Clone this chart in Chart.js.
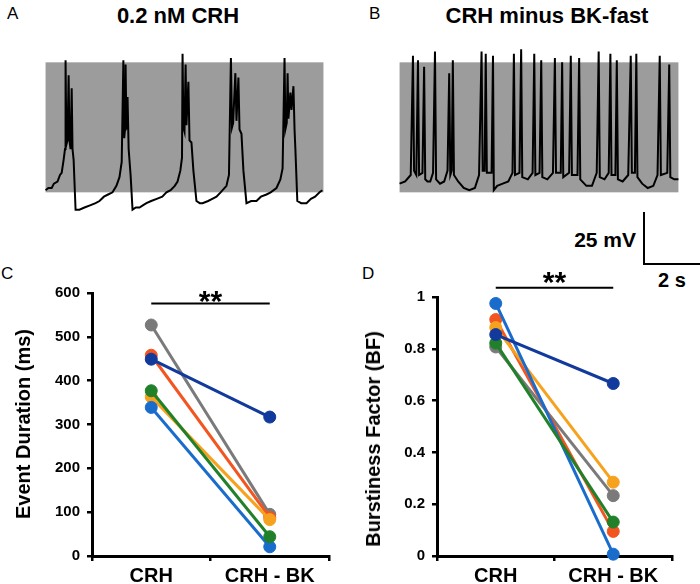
<!DOCTYPE html>
<html>
<head>
<meta charset="utf-8">
<script src="https://cdn.jsdelivr.net/npm/chart.js@4.4.1/dist/chart.umd.min.js"></script>
<style>
  body { margin: 0; background: #fff; width: 700px; height: 584px; position: relative; overflow: hidden;
         font-family: "Liberation Sans", Arial, sans-serif; color: #000; }
  canvas { position: absolute; }
  .t { position: absolute; line-height: 1; white-space: nowrap; }
  .b { font-weight: bold; }
  .bar { position: absolute; background: #000; }
  .ytitle { position: absolute; font-weight: bold; font-size: 20px; line-height: 1; white-space: nowrap;
            transform: translate(-50%, -50%) rotate(-90deg); }
</style>
</head>
<body>
<div class="t" style="left:7px;top:5px;font-size:17px">A</div>
<div class="t b" style="left:178px;top:5px;font-size:22px;transform:translateX(-50%)">0.2 nM CRH</div>
<div class="t" style="left:369px;top:5px;font-size:17px">B</div>
<div class="t" style="left:547px;top:5px;font-size:22px;transform:translateX(-50%);font-weight:bold">CRH minus BK-fast</div>
<div class="t" style="left:1px;top:265px;font-size:17px">C</div>
<div class="t" style="left:362px;top:265px;font-size:17px">D</div>

<div class="t b" style="right:64px;top:229px;font-size:21px">25 mV</div>
<div class="t b" style="left:672px;top:270px;font-size:20px;transform:translateX(-50%)">2 s</div>
<div class="bar" style="left:643px;top:212px;width:2px;height:53px"></div>
<div class="bar" style="left:643px;top:263px;width:57px;height:2px"></div>

<canvas id="traceA" width="289" height="169" style="left:40px;top:45px"></canvas>
<canvas id="traceB" width="290" height="169" style="left:394px;top:45px"></canvas>
<canvas id="durChart" width="345" height="314" style="left:0px;top:270px"></canvas>
<canvas id="bfChart" width="350" height="324" style="left:350px;top:260px"></canvas>

<div class="ytitle" style="left:23px;top:424px">Event Duration (ms)</div>
<div class="ytitle" style="left:373px;top:439px">Burstiness Factor (BF)</div>

<script>
// voltage trace, 0.2 nM CRH (time s, membrane potential mV)
const traceATime = [0.00, 0.10, 0.22, 0.30, 0.43, 0.52, 0.58, 0.65, 0.70, 0.72, 0.75, 0.79, 0.83, 0.86, 0.90, 0.94, 0.97, 1.01, 1.08, 1.22,
  1.40, 1.60, 1.80, 1.94, 2.10, 2.25, 2.41, 2.55, 2.66, 2.74, 2.80, 2.83, 2.86, 2.88, 2.91, 2.95, 2.99, 3.06, 3.13, 3.25,
  3.38, 3.50, 3.63, 3.80, 4.00, 4.20, 4.35, 4.50, 4.65, 4.75, 4.85, 4.91, 4.93, 4.96, 5.00, 5.04, 5.07, 5.14, 5.18, 5.25,
  5.32, 5.43, 5.55, 5.65, 5.85, 6.00, 6.15, 6.30, 6.51, 6.60, 6.67, 6.71, 6.75, 6.83, 6.87, 6.94, 6.98, 7.05, 7.12, 7.23,
  7.40, 7.59, 7.75, 7.95, 8.10, 8.31, 8.45, 8.53, 8.60, 8.63, 8.68, 8.71, 8.74, 8.81, 8.85, 8.92, 8.96, 8.99, 9.06, 9.20,
  9.39, 9.55, 9.70, 9.86, 9.96];
const traceAVolt = [-59, -58, -58, -56, -55, -52, -51, -45, -40, 1, -38, -36, -6, -36, -40, -12, -40, -45, -68, -68,
  -67, -66, -65, -64, -62, -61, -60, -57, -53, -46, 1, -35, -31, -1, -31, -16, -40, -52, -68, -67,
  -67, -66, -65, -64, -63, -62, -60, -59, -57, -55, -50, -44, 4, -30, -32, -1, -29, -9, -36, -37,
  -50, -64, -65, -65, -64, -63, -62, -60, -57, -52, 2, -30, -28, -5, -27, -7, -31, -33, -50, -65,
  -64, -64, -62, -61, -60, -58, -54, -49, 2, -31, -28, -5, -26, -14, -22, -11, -31, -40, -64, -65,
  -65, -63, -62, -60, -59];

// voltage trace, CRH minus BK-fast
const traceBTime = [0.00, 0.20, 0.40, 0.48, 0.52, 0.60, 0.66, 0.70, 0.82, 0.88, 0.92, 1.00, 1.10, 1.20, 1.27, 1.31, 1.45, 1.60, 1.72, 1.78,
  1.82, 1.87, 1.91, 1.95, 2.10, 2.30, 2.50, 2.70, 2.85, 2.94, 2.98, 3.05, 3.09, 3.13, 3.30, 3.35, 3.38, 3.50, 3.70, 3.90,
  4.05, 4.10, 4.14, 4.30, 4.36, 4.40, 4.60, 4.77, 4.83, 4.87, 5.02, 5.08, 5.12, 5.30, 5.50, 5.57, 5.61, 5.78, 5.83, 5.87,
  6.08, 6.14, 6.18, 6.38, 6.44, 6.48, 6.70, 6.90, 7.07, 7.14, 7.18, 7.35, 7.50, 7.56, 7.60, 7.74, 7.79, 7.83, 8.00, 8.20,
  8.29, 8.33, 8.44, 8.49, 8.53, 8.70, 8.90, 9.10, 9.25, 9.33, 9.37, 9.60, 9.67, 9.71, 9.85, 10.00];
const traceBVolt = [-56, -55, -52, 3, -50, -52, 1, -52, -51, -2, -54, -55, -55, -51, 5, -54, -56, -55, -50, -5,
  -52, -50, 1, -52, -55, -58, -59, -58, -52, 5, -50, -50, 4, -51, -51, 3, -59, -57, -56, -55,
  -51, 4, -52, -51, 6, -53, -54, -51, 4, -52, -51, 1, -53, -54, -51, 2, -51, -51, 0, -53,
  -51, 3, -52, -52, 2, -54, -57, -57, -51, 5, -53, -54, -51, 4, -52, -52, 1, -54, -55, -52,
  3, -51, -51, 4, -53, -56, -58, -57, -52, 3, -52, -51, -1, -53, -54, -54];

// per-cell summary data
const groups = ['CRH', 'CRH - BK'];
const cellColors = ['#123a9c', '#21802a', '#1a6ccc', '#f7a21e', '#f2551f', '#7a7a7a'];
const durationCRH = [449, 377, 339, 363, 458, 527];
const durationBK = [317, 44, 21, 83, 88, 95];
const burstCRH = [0.855, 0.822, 0.975, 0.882, 0.913, 0.807];
const burstBK = [0.666, 0.131, 0.007, 0.285, 0.095, 0.233];

const FONT = '"Liberation Sans", Arial, sans-serif';

const grayBox = {
  id: 'grayBox',
  beforeDatasetsDraw(chart) {
    const {ctx, scales: {x, y}} = chart;
    const l = x.getPixelForValue(0), r = x.getPixelForValue(10);
    const t = y.getPixelForValue(0), b = y.getPixelForValue(-60);
    ctx.save();
    ctx.fillStyle = '#9c9c9c';
    ctx.fillRect(l, t, r - l, b - t);
    ctx.restore();
  }
};

function traceChart(id, times, volts) {
  const pts = times.map((t, i) => ({x: t, y: volts[i]}));
  new Chart(document.getElementById(id), {
    type: 'line',
    data: { datasets: [{ data: pts, borderColor: '#000', borderWidth: 2, pointRadius: 0, tension: 0, clip: false }] },
    options: {
      responsive: false, animation: false, events: [],
      layout: { padding: 0 },
      plugins: { legend: { display: false }, tooltip: { enabled: false } },
      scales: {
        x: { type: 'linear', min: -0.2, max: 10.2, display: false },
        y: { min: -70, max: 8, display: false }
      }
    },
    plugins: [grayBox]
  });
}
traceChart('traceA', traceATime, traceAVolt);
traceChart('traceB', traceBTime, traceBVolt);

const sigBar = {
  id: 'sigBar',
  afterDraw(chart, args, opts) {
    const {ctx, scales: {x, y}} = chart;
    const x0 = x.getPixelForValue(0), x1 = x.getPixelForValue(1);
    const yy = y.getPixelForValue(opts.level);
    ctx.save();
    ctx.strokeStyle = '#000';
    ctx.lineWidth = 2;
    ctx.beginPath(); ctx.moveTo(x0, yy); ctx.lineTo(x1, yy); ctx.stroke();
    ctx.fillStyle = '#000';
    ctx.font = 'bold 30px ' + FONT;
    ctx.textAlign = 'center';
    ctx.textBaseline = 'alphabetic';
    ctx.fillText('**', (x0 + x1) / 2, yy + opts.gap);
    ctx.restore();
  }
};

function pairedChart(id, crh, bk, yMax, step, yWidth, xHeight, pad, level, gap) {
  const datasets = cellColors.map((c, i) => ({
    data: [crh[i], bk[i]],
    borderColor: c, backgroundColor: c,
    pointBackgroundColor: c, pointBorderColor: c,
    borderWidth: 3, pointRadius: 6, pointBorderWidth: 1,
    tension: 0, clip: false
  }));
  const axisGrid = { display: true, drawOnChartArea: false, drawTicks: true, tickLength: 5, color: '#000', lineWidth: 2.5 };
  new Chart(document.getElementById(id), {
    type: 'line',
    data: { labels: groups, datasets },
    options: {
      responsive: false, animation: false, events: [],
      layout: { padding: pad },
      plugins: { legend: { display: false }, tooltip: { enabled: false }, sigBar: { level, gap } },
      scales: {
        x: {
          type: 'category', offset: true,
          grid: Object.assign({ offset: true }, axisGrid),
          border: { display: true, color: '#000', width: 3 },
          ticks: { color: '#000', font: { family: FONT, size: 20, weight: 'bold' }, padding: 3, maxRotation: 0 },
          afterFit: s => { s.height = xHeight; }
        },
        y: {
          min: 0, max: yMax,
          grid: axisGrid,
          border: { display: true, color: '#000', width: 3 },
          ticks: {
            stepSize: step, color: '#000', padding: 7,
            font: { family: FONT, size: 15, weight: 'bold' },
            callback: v => String(Number(v.toFixed(2)))
          },
          afterFit: s => { s.width = yWidth; }
        }
      }
    },
    plugins: [sigBar]
  });
}
pairedChart('durChart', durationCRH, durationBK, 600, 100, 92, 28, { top: 23, right: 16, left: 0, bottom: 0 }, 576, 7);
pairedChart('bfChart', burstCRH, burstBK, 1, 0.2, 87, 28, { top: 37, right: 28, left: 0, bottom: 0 }, 1.036, 4);
</script>
</body>
</html>
